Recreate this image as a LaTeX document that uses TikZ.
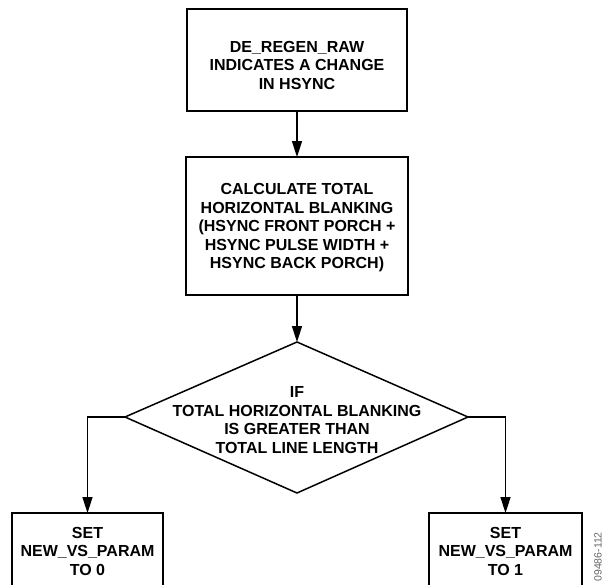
\documentclass[tikz,border=0pt]{standalone}
\usepackage{fontspec}
\setmainfont{Liberation Sans}
\usetikzlibrary{arrows.meta,shapes.geometric}
\begin{document}
\begin{tikzpicture}[x=1pt,y=-1pt,
  txt/.style={font=\bfseries\fontsize{16}{18.5}\selectfont, align=center, inner sep=0pt},
  boxline/.style={draw, line width=1.6pt},
  conn/.style={line width=1.5pt, -{Triangle[length=16pt,width=10pt]}},
  plain/.style={line width=1.5pt}]
\useasboundingbox (0,0) rectangle (605,584);
\clip (0,0) rectangle (605,584);
% boxes
\draw[boxline] (187,9) rectangle (407,111);
\node[txt] (t1) at (297,65) {DE\_REGEN\_RAW\\INDICATES A CHANGE\\IN HSYNC};
\coordinate (b1) at (297,111);
\draw[boxline] (186,157) rectangle (408,295);
\node[txt] (t2) at (297,228) {CALCULATE TOTAL\\HORIZONTAL BLANKING\\(HSYNC FRONT PORCH +\\HSYNC PULSE WIDTH +\\HSYNC BACK PORCH)};
\coordinate (top2) at (297,157);
\coordinate (b2) at (297,295);
% diamond
\coordinate (dt) at (297,342);
\coordinate (dl) at (125,417);
\coordinate (dr) at (468,417);
\coordinate (db) at (297,493);
\draw[line width=1.5pt, line join=miter] (dt) -- (dr) -- (db) -- (dl) -- cycle;
\node[txt] (t3) at (297,420) {IF\\TOTAL HORIZONTAL BLANKING\\IS GREATER THAN\\TOTAL LINE LENGTH};
% bottom boxes
\draw[boxline] (12,513) rectangle (163,600);
\node[txt] (t4) at (87.5,551) {SET\\NEW\_VS\_PARAM\\TO 0};
\draw[boxline] (429,513) rectangle (582,600);
\node[txt] (t5) at (505.5,551) {SET\\NEW\_VS\_PARAM\\TO 1};
\coordinate (top4) at (87.5,513);
\coordinate (top5) at (505.5,513);
% connectors
\draw[conn] (b1) -- (top2);
\draw[conn] (b2) -- (dt);
\draw[conn] (dl) -| (top4);
\draw[conn] (dr) -| (top5);
% figure id
\node[rotate=90, anchor=east, font=\fontsize{10.5}{12}\selectfont, text=black!60, inner sep=0pt] (fid) at (598,532) {09486-112};
\end{tikzpicture}
\end{document}
